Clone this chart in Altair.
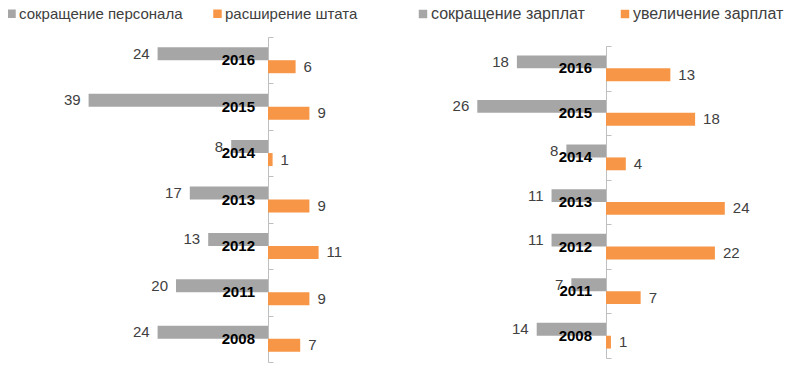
import altair as alt
import pandas as pd

years = ["2016", "2015", "2014", "2013", "2012", "2011", "2008"]
staff_cut = [24, 39, 8, 17, 13, 20, 24]
staff_hire = [6, 9, 1, 9, 11, 9, 7]
pay_cut = [18, 26, 8, 11, 11, 7, 14]
pay_raise = [13, 18, 4, 24, 22, 7, 1]

left_names = ["сокращение персонала", "расширение штата"]
right_names = ["сокращение зарплат", "увеличение зарплат"]

GRAY = "#A6A6A6"
ORANGE = "#F79646"
AXIS = "#BFBFBF"
TXT = "#404040"
FONT = "Liberation Sans"


def long_df(cut, grow, names):
    rows = []
    for y, c, g in zip(years, cut, grow):
        rows.append({"year": y, "series": names[0], "value": c, "side": "cut"})
        rows.append({"year": y, "series": names[1], "value": g, "side": "grow"})
    return pd.DataFrame(rows)


def panel(df, names, xdomain, xrange, yrange, ypad, axis_offset,
          legend_x, col_pad, legend_fs, year_dx):
    base = alt.Chart(df).transform_calculate(
        pos="datum.side == 'cut' ? -datum.value : datum.value"
    )
    x = alt.X("pos:Q", scale=alt.Scale(domain=xdomain, range=xrange), axis=None)
    y = alt.Y(
        "year:N",
        sort=years,
        scale=alt.Scale(range=yrange, paddingInner=0, paddingOuter=0),
        axis=alt.Axis(
            orient="right", offset=axis_offset, labels=False, title=None,
            ticks=True, tickBand="extent", tickSize=5, tickColor=AXIS,
            domainColor=AXIS, grid=False,
        ),
    )
    yoff = alt.YOffset(
        "series:N", sort=names,
        scale=alt.Scale(domain=names, paddingInner=0, paddingOuter=ypad),
    )
    bars = base.mark_bar().encode(
        x=x, y=y, yOffset=yoff,
        color=alt.Color(
            "series:N",
            scale=alt.Scale(domain=names, range=[GRAY, ORANGE]),
            legend=alt.Legend(
                orient="none", legendX=legend_x, legendY=-2, direction="horizontal",
                title=None, symbolType="square", symbolSize=72, symbolStrokeWidth=0,
                labelFont=FONT, labelFontSize=legend_fs, labelColor=TXT, labelOffset=0,
                labelLimit=0, columnPadding=col_pad, padding=0,
            ),
        ),
    )
    cut_txt = base.transform_filter("datum.side == 'cut'").mark_text(
        align="right", baseline="middle", dx=-8, font=FONT, fontSize=15, color=TXT
    ).encode(x=x, y=y, yOffset=yoff, text="value:Q")
    grow_txt = base.transform_filter("datum.side == 'grow'").mark_text(
        align="left", baseline="middle", dx=8, font=FONT, fontSize=15, color=TXT
    ).encode(x=x, y=y, yOffset=yoff, text="value:Q")
    year_txt = base.transform_filter("datum.side == 'cut'").transform_calculate(
        pos="0"
    ).mark_text(
        align="right", baseline="middle", dx=year_dx, font=FONT, fontSize=15,
        fontWeight="bold", color="#000000"
    ).encode(x=x, y=y, text="year:N")
    return alt.layer(bars, year_txt, cut_txt, grow_txt)


left = panel(long_df(staff_cut, staff_hire, left_names), left_names,
             [-40, 15], [76, 329], [29, 354], 0.785, -524, -4, 27, 15, -13)
right = panel(long_df(pay_cut, pay_raise, right_names), right_names,
              [-30, 30], [449.5, 746.5], [38, 350], 0.735, -186, 407, 32, 16, -14)

chart = alt.layer(left, right).resolve_scale(
    x="independent", y="independent", color="independent", yOffset="independent"
).resolve_legend(color="independent").properties(
    width=784, height=359, autosize=alt.AutoSizeParams(type="none"), padding=0
).configure_view(stroke=None)

chart.save("out.html", embed_options={"renderer": "svg", "actions": False})
